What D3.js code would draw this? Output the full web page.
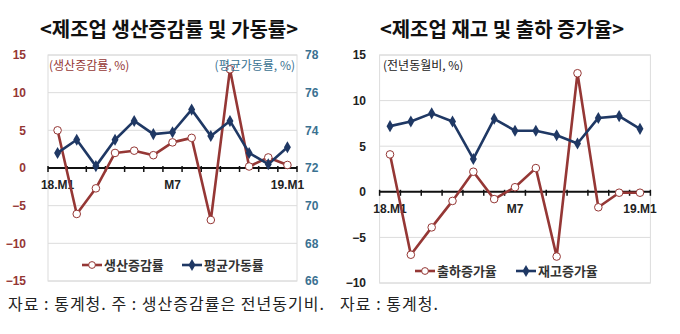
<!DOCTYPE html>
<html><head><meta charset="utf-8">
<script src="https://cdn.jsdelivr.net/npm/d3@7"></script>
<style>
html,body{margin:0;padding:0;background:#fff;}
svg{display:block;font-family:"Noto Sans CJK KR","Noto Sans",sans-serif;}
</style></head>
<body><svg id="c" width="680" height="334"></svg>
<script>
// ---- data ----
const months = ["18.M1","18.M2","18.M3","18.M4","18.M5","18.M6","18.M7","18.M8","18.M9","18.M10","18.M11","18.M12","19.M1"];
const xTickLabels = ["18.M1","","","","","","M7","","","","","","19.M1"];
const production = [5.0,-6.1,-2.7,2.0,2.3,1.7,3.4,4.0,-6.9,13.1,0.2,1.4,0.4];
const utilization = [72.8,73.5,72.1,73.5,74.5,73.8,73.9,75.1,73.7,74.5,72.8,72.2,73.1];
const shipment = [4.1,-6.9,-3.9,-1.0,2.2,-0.8,0.5,2.6,-7.1,13.0,-1.7,-0.1,-0.1];
const inventory = [7.2,7.7,8.6,7.7,3.6,8.0,6.7,6.7,6.2,5.3,8.1,8.3,6.9];
const leftTicksL = [-15,-10,-5,0,5,10,15];
const leftTicksR = [66,68,70,72,74,76,78];
const rightTicks = [-10,-5,0,5,10,15];

const RED = "#953735", NAVY = "#1F3864", TEAL = "#3A7191";
const svg = d3.select("#c");
const diamond = d3.symbol().type(d3.symbolDiamond).size(42);

function chart(o){
  const g = svg.append("g");
  const x = d3.scaleBand().domain(months).range([o.left,o.right]);
  const cx = d => x(d)+x.bandwidth()/2;
  const yL = d3.scaleLinear().domain(o.domL).range([o.bottom,o.top]);
  // grid
  g.append("g").selectAll("line").data(o.ticksL).join("line")
    .attr("x1",o.left).attr("x2",o.right).attr("y1",d=>yL(d)).attr("y2",d=>yL(d))
    .attr("stroke","#dcdcdc").attr("stroke-width",1);
  g.append("rect").attr("x",o.left).attr("y",o.top).attr("width",o.right-o.left).attr("height",o.bottom-o.top)
    .attr("fill","none").attr("stroke","#dcdcdc");
  // left axis labels
  const axL = d3.axisLeft(yL).tickValues(o.ticksL).tickSize(0).tickPadding(0);
  const gL = g.append("g").attr("transform",`translate(${o.labL},0)`).call(axL);
  gL.select(".domain").remove();
  gL.selectAll("text").attr("fill",o.colL).attr("font-size",12).attr("font-weight","bold").attr("font-family","Liberation Sans, Arial, sans-serif");
  let yR = null;
  if(o.domR){
    yR = d3.scaleLinear().domain(o.domR).range([o.bottom,o.top]);
    const axR = d3.axisRight(yR).tickValues(o.ticksR).tickSize(0).tickPadding(0);
    const gR = g.append("g").attr("transform",`translate(${o.labR},0)`).call(axR);
    gR.select(".domain").remove();
    gR.selectAll("text").attr("fill",o.colR).attr("font-size",12).attr("font-weight","bold").attr("font-family","Liberation Sans, Arial, sans-serif");
  }
  // zero axis
  const y0 = yL(0);
  const gx = g.append("g").attr("transform",`translate(0,${y0})`);
  gx.append("line").attr("x1",o.left).attr("x2",o.right).attr("stroke","#111").attr("stroke-width",2);
  const bounds = months.map(m=>x(m)).concat([o.right]);
  gx.selectAll("line.t").data(bounds).join("line").attr("class","t")
    .attr("x1",d=>d).attr("x2",d=>d).attr("y1",-2).attr("y2",4).attr("stroke","#111").attr("stroke-width",1.5);
  gx.selectAll("text").data(months).join("text")
    .attr("x",d=>cx(d)).attr("y",21).attr("text-anchor","middle")
    .attr("font-size",12).attr("font-weight","bold").attr("fill","#222")
    .attr("font-family","Liberation Sans, Arial, sans-serif")
    .text((d,i)=>xTickLabels[i]);
  // series
  o.series.forEach(s=>{
    const ys = s.axis==="R"? yR : yL;
    const line = d3.line().x((d,i)=>cx(months[i])).y(d=>ys(d));
    g.append("path").datum(s.values).attr("d",line).attr("fill","none")
      .attr("stroke",s.color).attr("stroke-width",2.6).attr("stroke-linejoin","round");
  });
  o.series.forEach(s=>{
    const ys = s.axis==="R"? yR : yL;
    if(s.marker==="circle"){
      g.append("g").selectAll("circle").data(s.values).join("circle")
        .attr("cx",(d,i)=>cx(months[i])).attr("cy",d=>ys(d)).attr("r",3.8)
        .attr("fill","#fff").attr("stroke",s.color).attr("stroke-width",1);
    } else {
      g.append("g").selectAll("path").data(s.values).join("path")
        .attr("d",diamond).attr("transform",(d,i)=>`translate(${cx(months[i])},${ys(d)})`)
        .attr("fill",s.color);
    }
  });
  // annotations
  o.notes.forEach(n=>{
    g.append("text").attr("x",n.x).attr("y",n.y).attr("text-anchor",n.anchor||"start")
      .attr("font-size",12).attr("fill",n.color).text(n.text);
  });
  // legend
  o.legend.forEach(l=>{
    const lg = g.append("g").attr("transform",`translate(${l.x},${l.y})`);
    lg.append("line").attr("x1",0).attr("x2",20).attr("stroke",l.color).attr("stroke-width",2.6);
    if(l.marker==="circle") lg.append("circle").attr("cx",10).attr("r",3.4).attr("fill","#fff").attr("stroke",l.color);
    else lg.append("path").attr("d",diamond).attr("transform","translate(10,0)").attr("fill",l.color);
    lg.append("text").attr("x",22).attr("y",4.5).attr("font-size",13).attr("font-weight","bold").attr("fill","#333").text(l.text);
  });
  // title
  g.append("text").attr("x",o.titleX).attr("y",37).attr("text-anchor","middle")
    .attr("font-size",20).attr("font-weight","bold").attr("fill","#111").text(o.title);
}

chart({left:48,right:297,top:55,bottom:281,domL:[-15,15],ticksL:leftTicksL,domR:[66,78],ticksR:leftTicksR,
  labL:26,labR:305,colL:RED,colR:TEAL,
  series:[{values:production,color:RED,marker:"circle",axis:"L"},{values:utilization,color:NAVY,marker:"diamond",axis:"R"}],
  notes:[{x:49,y:70,text:"(생산증감률, %)",color:RED},{x:295,y:70,text:"(평균가동률, %)",color:TEAL,anchor:"end"}],
  legend:[{x:82,y:265,text:"생산증감률",color:RED,marker:"circle"},{x:182,y:265,text:"평균가동률",color:NAVY,marker:"diamond"}],
  title:"<제조업 생산증감률 및 가동률>",titleX:169});

chart({left:379.6,right:650.4,top:55,bottom:283,domL:[-10,15],ticksL:rightTicks,
  labL:366,colL:"#222",
  series:[{values:shipment,color:RED,marker:"circle",axis:"L"},{values:inventory,color:NAVY,marker:"diamond",axis:"L"}],
  notes:[{x:383,y:70,text:"(전년동월비, %)",color:"#222"}],
  legend:[{x:415,y:271,text:"출하증가율",color:RED,marker:"circle"},{x:516,y:271,text:"재고증가율",color:NAVY,marker:"diamond"}],
  title:"<제조업 재고 및 출하 증가율>",titleX:502});

svg.append("text").attr("x",8).attr("y",310).attr("font-size",16).attr("fill","#222")
  .attr("textLength",316).attr("lengthAdjust","spacing")
  .text("자료 : 통계청. 주 : 생산증감률은 전년동기비.");
svg.append("text").attr("x",340).attr("y",310).attr("font-size",16).attr("fill","#222")
  .attr("textLength",98).attr("lengthAdjust","spacing")
  .text("자료 : 통계청.");
</script></body></html>
